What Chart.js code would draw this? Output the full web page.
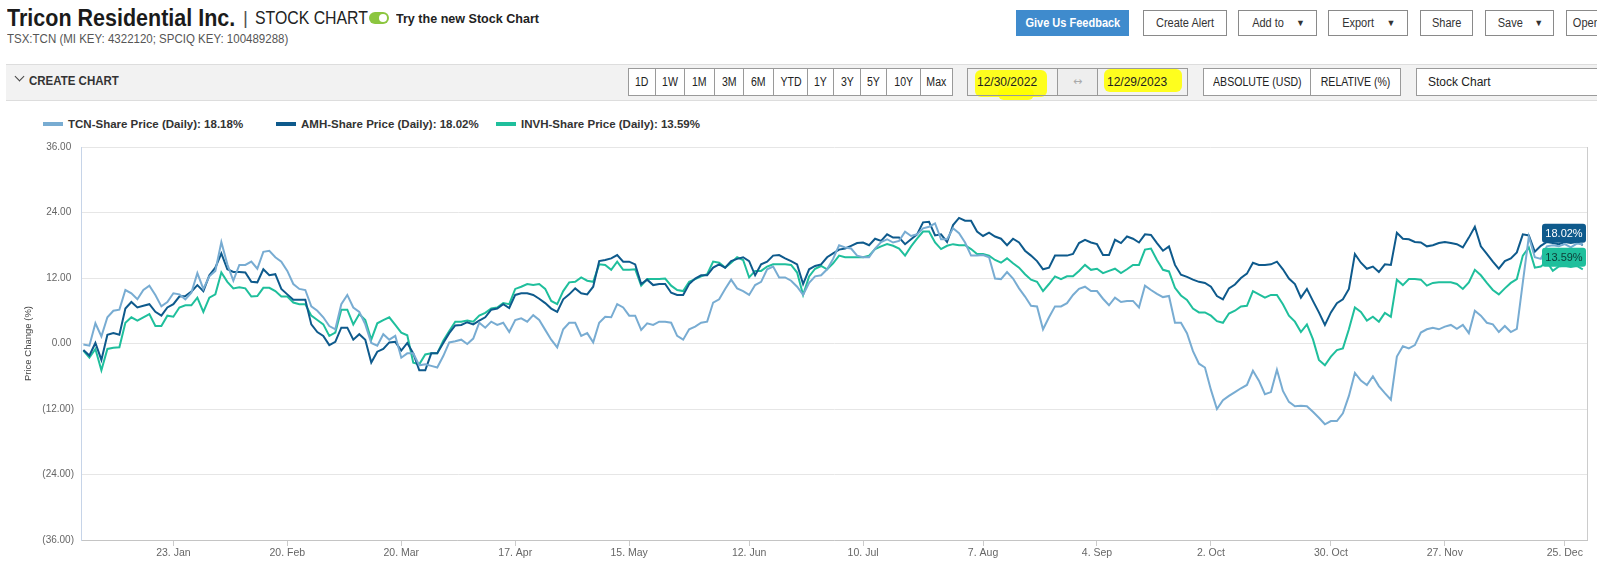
<!DOCTYPE html>
<html>
<head>
<meta charset="utf-8">
<title>Tricon Residential Inc. | Stock Chart</title>
<script src="https://cdn.jsdelivr.net/npm/chart.js@4.4.1/dist/chart.umd.min.js"></script>
<style>
  body { margin: 0; width: 1597px; height: 572px; overflow: hidden; background: #fff;
         font-family: "Liberation Sans", Arial, sans-serif; color: #222; position: relative; }
  .abs { position: absolute; white-space: nowrap; transform-origin: 0 50%; }
  .title { left: 7px; top: 5px; font-size: 23px; font-weight: bold; color: #1b1b1b; transform: scaleX(0.935); }
  .sep { left: 243px; top: 7px; font-size: 19px; color: #555; }
  .sub { left: 255px; top: 8px; font-size: 18px; color: #222; transform: scaleX(0.88); }
  .toggle { left: 369px; top: 12px; width: 20px; height: 12px; border-radius: 6px; background: #8cc63f; }
  .toggle:after { content: ""; position: absolute; right: 2px; top: 2px; width: 8px; height: 8px; border-radius: 50%; background: #fff; }
  .trynew { left: 396px; top: 11px; font-size: 13.5px; font-weight: bold; color: #222; transform: scaleX(0.93); }
  .keys { left: 7px; top: 32px; font-size: 12.5px; color: #555; transform: scaleX(0.92); }
  .btn { position: absolute; top: 10px; height: 26px; box-sizing: border-box; border: 1px solid #8a8a8a; background: #fff;
         font-size: 12.5px; line-height: 24px; text-align: center; color: #333; white-space: nowrap; overflow: hidden; }
  .btn.blue { background: #3f8bcd; border-color: #3f8bcd; color: #fff; font-weight: bold; }
  .n { display: inline-block; transform: scaleX(0.88); }
  .caret { font-size: 9px; margin-left: 10px; vertical-align: 1px; }
  .bar { left: 6px; top: 64px; width: 1591px; height: 35px; background: #f2f2f2; border-top: 1px solid #ddd; border-bottom: 1px solid #ddd; }
  .chev { left: 16px; top: 73px; width: 6px; height: 6px; border-right: 1.5px solid #444; border-bottom: 1.5px solid #444; transform: rotate(45deg); transform-origin: 50% 50%; }
  .create { left: 29px; top: 74px; font-size: 12.5px; font-weight: bold; color: #333; transform: scaleX(0.92); }
  .seg { position: absolute; top: 68px; height: 28px; box-sizing: border-box; border: 1px solid #9a9a9a; background: #fff;
         font-size: 12px; line-height: 26px; text-align: center; color: #222; white-space: nowrap; }
  .hl { position: absolute; background: rgba(255, 255, 0, 0.88); border-radius: 6px; }
  .legend-item { position: absolute; top: 118px; display: flex; align-items: center; white-space: nowrap;
                 font-size: 11.5px; font-weight: bold; color: #333; }
  .legend-item .sw { width: 20px; height: 4px; margin-right: 5px; }
  #chart { position: absolute; left: 0; top: 130px; }
</style>
</head>
<body>
<div class="abs title">Tricon Residential Inc.</div>
<div class="abs sep">|</div>
<div class="abs sub">STOCK CHART</div>
<div class="abs toggle"></div>
<div class="abs trynew">Try the new Stock Chart</div>
<div class="abs keys">TSX:TCN (MI KEY: 4322120; SPCIQ KEY: 100489288)</div>

<div class="btn blue" style="left:1016px;width:113px;"><span class="n">Give Us Feedback</span></div>
<div class="btn" style="left:1143px;width:84px;"><span class="n">Create Alert</span></div>
<div class="btn" style="left:1238px;width:79px;"><span class="n">Add to</span><span class="caret">&#9660;</span></div>
<div class="btn" style="left:1328px;width:80px;"><span class="n">Export</span><span class="caret">&#9660;</span></div>
<div class="btn" style="left:1420px;width:53px;"><span class="n">Share</span></div>
<div class="btn" style="left:1485px;width:69px;"><span class="n">Save</span><span class="caret">&#9660;</span></div>
<div class="btn" style="left:1566px;width:60px;text-align:left;padding-left:4px;"><span class="n">Open</span></div>

<div class="abs bar"></div>
<div class="abs chev"></div>
<div class="abs create">CREATE CHART</div>
<div id="ranges"></div>
<div class="hl" style="left:975px;top:70px;width:72px;height:27px;"></div>
<div class="hl" style="left:998px;top:88px;width:36px;height:12px;"></div>
<div class="hl" style="left:1104px;top:69px;width:78px;height:23px;"></div>
<div class="seg" style="left:967px;width:91px;background:transparent;text-align:left;padding-left:9px;">12/30/2022</div>
<div class="seg" style="left:1057px;width:41px;background:#eee;color:#aaa;font-family:'DejaVu Sans',sans-serif;font-size:11px;">&#8596;</div>
<div class="seg" style="left:1097px;width:91px;background:transparent;text-align:left;padding-left:9px;">12/29/2023</div>
<div class="seg" style="left:1203px;width:108px;"><span class="n">ABSOLUTE (USD)</span></div>
<div class="seg" style="left:1310px;width:91px;"><span class="n">RELATIVE (%)</span></div>
<div class="seg" style="left:1416px;width:190px;text-align:left;padding-left:11px;">Stock Chart</div>

<div id="legend"></div>
<canvas id="chart" width="1597" height="442"></canvas>

<script>
// range buttons in the toolbar
var rangeNames = ['1D', '1W', '1M', '3M', '6M', 'YTD', '1Y', '3Y', '5Y', '10Y', 'Max'];
var rangeWidths = [27, 29, 30, 29, 30, 34, 26, 27, 26, 34, 32];

// x axis: trading-day index of each labelled Monday
var tickIdx = [15, 34, 53, 72, 91, 111, 130, 150, 169, 188, 208, 227, 247];
var tickLabels = ['23. Jan', '20. Feb', '20. Mar', '17. Apr', '15. May', '12. Jun', '10. Jul',
                  '7. Aug', '4. Sep', '2. Oct', '30. Oct', '27. Nov', '25. Dec'];

var seriesNames = ['TCN-Share Price (Daily)', 'AMH-Share Price (Daily)', 'INVH-Share Price (Daily)'];
var seriesColors = ['#78acd2', '#0e5a8c', '#1fbf9c'];
var legendLeft = [43, 276, 496];

// daily price change (%) vs 12/30/2022
var tcnValues = [
  -0.2, -0.4, 3.7, 1.3, 4.8, 6.0, 6.2, 9.8, 9.2, 8.1,
  9.8, 10.6, 8.9, 6.8, 7.6, 9.2, 9.0, 8.1, 9.3, 12.9,
  10.0, 12.3, 13.3, 18.6, 14.5, 11.5, 14.4, 14.4, 15.0, 13.7,
  16.8, 17.0, 15.8, 15.0, 13.3, 10.9, 10.0, 9.8, 6.8, 6.0,
  4.8, 3.2, 2.6, 7.2, 8.9, 6.6, 5.8, 3.5, 0.1, -0.4,
  1.7, 0.7, 1.4, -2.6, -1.8, -1.8, -4.0, -3.8, -4.1, -4.4,
  -2.3, 0.2, 0.4, 0.7, -0.1, 0.9, 3.8, 2.9, 4.0, 3.4,
  3.8, 2.1, 4.3, 4.6, 4.0, 5.2, 4.3, 2.5, 0.7, -0.7,
  2.6, 3.8, 3.8, 1.4, 1.9, 0.2, 3.8, 4.9, 4.8, 7.2,
  6.6, 5.1, 5.1, 2.5, 3.7, 3.4, 4.0, 4.0, 3.8, 1.4,
  0.7, 2.6, 3.1, 3.8, 4.0, 7.5, 8.1, 10.0, 11.7, 10.1,
  9.6, 8.9, 10.7, 11.3, 13.6, 14.1, 12.1, 12.1, 11.5, 10.4,
  8.9, 11.1, 12.3, 12.5, 13.6, 15.5, 18.0, 17.6, 17.4, 16.1,
  15.8, 15.8, 17.4, 18.6, 19.1, 18.5, 18.8, 20.5, 19.7, 20.0,
  21.1, 21.4, 22.0, 19.1, 19.1, 21.1, 20.2, 18.5, 16.1, 16.1,
  16.2, 15.8, 11.9, 11.8, 13.1, 11.9, 10.1, 8.6, 6.9, 6.8,
  2.6, 4.8, 6.8, 6.8, 7.4, 8.9, 10.0, 10.4, 9.6, 9.6,
  8.2, 7.0, 8.4, 7.6, 7.8, 7.8, 6.6, 10.6, 9.8, 9.1,
  8.5, 8.7, 3.8, 3.8, 1.9, -1.4, -3.7, -4.4, -8.5, -12.0,
  -10.4, -9.6, -8.9, -8.2, -7.6, -5.0, -6.8, -9.3, -8.9, -4.8,
  -8.7, -10.7, -11.5, -11.4, -11.5, -12.5, -13.6, -14.8, -14.2, -14.2,
  -12.8, -9.6, -5.4, -6.8, -7.6, -6.0, -7.8, -9.1, -10.3, -2.4,
  -0.5, -0.9, -0.3, 2.0, 2.6, 2.9, 2.6, 3.1, 3.4, 2.7,
  3.4, 1.9, 6.0, 5.1, 3.8, 3.5, 2.1, 3.2, 2.1, 2.7,
  11.2, 19.6, 15.8, 15.5, 17.8, 18.0, 17.8, 18.2, 17.6, 18.3,
  18.18
];
var amhValues = [
  -1.2, -2.2, 0.1, -3.0, 1.6, 1.9, 1.6, 6.4, 7.6, 6.6,
  6.9, 7.2, 5.8, 5.1, 6.6, 7.2, 8.6, 8.7, 9.5, 10.7,
  9.6, 12.5, 13.9, 16.5, 13.6, 13.1, 13.1, 13.0, 11.3, 11.2,
  13.6, 12.5, 12.7, 10.0, 9.0, 8.0, 8.0, 8.0, 3.5, 2.1,
  1.4, -0.3, 0.3, 2.9, 2.9, 0.7, 1.7, 0.7, -3.5, -1.5,
  -1.0, 0.2, 0.3, -1.3, 0.1, -1.8, -4.9, -4.9, -1.8, -1.8,
  0.1, 1.9, 3.3, 3.4, 3.9, 3.5, 4.2, 4.8, 6.2, 6.4,
  7.2, 6.5, 8.9, 9.2, 9.2, 8.9, 8.2, 7.4, 6.4, 5.8,
  8.1, 9.0, 10.1, 9.2, 9.0, 10.4, 15.1, 15.3, 15.6, 16.2,
  15.0, 15.0, 14.5, 10.9, 11.7, 10.7, 10.9, 10.9, 9.3, 8.9,
  8.9, 10.9, 11.9, 12.5, 12.5, 13.9, 14.5, 13.9, 15.1, 15.5,
  15.8, 15.1, 12.5, 14.5, 15.0, 16.1, 16.2, 15.6, 15.1, 14.5,
  10.9, 13.6, 14.2, 14.5, 15.8, 16.5, 17.2, 17.4, 17.9, 18.4,
  18.5, 18.0, 19.2, 18.8, 20.0, 19.4, 19.4, 18.2, 19.1, 20.0,
  22.2, 22.3, 19.8, 20.0, 18.6, 21.7, 23.0, 22.5, 22.5, 20.5,
  19.7, 20.3, 19.6, 19.2, 18.0, 19.2, 18.5, 17.0, 16.1, 15.1,
  13.6, 13.9, 16.1, 16.1, 16.1, 16.4, 18.4, 19.0, 18.5, 18.2,
  16.2, 16.2, 19.0, 18.4, 19.6, 19.2, 18.5, 20.0, 19.9, 18.4,
  17.0, 17.8, 14.4, 12.6, 12.2, 11.7, 11.3, 11.1, 10.4, 8.7,
  8.1, 10.1, 10.8, 12.0, 12.8, 14.8, 14.4, 14.4, 14.5, 15.0,
  13.6, 11.9, 10.9, 8.4, 10.0, 7.8, 5.7, 3.4, 5.7, 7.4,
  8.1, 10.0, 16.4, 14.8, 13.7, 14.1, 13.1, 14.5, 14.4, 20.3,
  19.2, 19.1, 18.6, 18.5, 17.8, 18.0, 18.4, 18.6, 18.4, 18.2,
  17.6, 19.4, 21.4, 17.8, 16.4, 15.0, 13.7, 15.1, 15.6, 16.7,
  20.0, 19.8, 16.8, 17.9, 18.6, 18.4, 18.2, 18.6, 18.4, 18.6,
  18.02
];
var invhValues = [
  -1.3, -2.6, -1.0, -4.9, -1.0, -0.8, -0.7, 3.8, 4.8, 4.2,
  4.8, 5.4, 3.2, 3.2, 5.1, 4.9, 6.6, 7.0, 7.0, 8.4,
  5.8, 8.4, 9.0, 13.0, 11.3, 10.1, 10.3, 10.1, 8.6, 8.7,
  10.2, 10.2, 9.6, 8.6, 8.6, 7.5, 7.2, 7.2, 5.1, 4.3,
  3.5, 1.4, 2.0, 6.2, 6.2, 3.5, 5.4, 4.3, 0.7, 3.7,
  4.3, 4.8, 3.4, 2.0, 1.5, -3.5, -3.8, -2.0, -1.8, -1.8,
  0.5, 2.3, 4.0, 4.0, 4.2, 4.0, 5.1, 5.6, 6.4, 6.6,
  7.4, 7.2, 10.0, 10.4, 10.9, 10.7, 10.9, 10.0, 7.8, 7.2,
  9.6, 11.2, 11.3, 12.1, 11.5, 11.3, 14.5, 14.4, 13.5, 15.0,
  13.5, 13.5, 13.6, 10.6, 11.8, 11.8, 11.8, 11.9, 10.6, 9.8,
  9.6, 11.3, 11.8, 12.3, 12.7, 15.0, 14.8, 13.9, 14.8, 15.8,
  15.3, 12.1, 13.3, 13.3, 14.1, 14.5, 14.5, 14.5, 14.4, 13.0,
  8.9, 12.3, 13.7, 14.2, 13.6, 14.7, 16.1, 15.8, 15.8, 15.8,
  15.8, 16.1, 17.3, 17.8, 18.2, 17.9, 17.4, 16.1, 17.8, 19.2,
  20.5, 20.5, 18.5, 17.3, 17.9, 18.2, 18.0, 18.0, 17.3, 16.4,
  16.4, 16.1, 15.3, 14.8, 15.6, 14.7, 13.9, 12.7, 11.7, 11.3,
  9.6, 10.9, 12.3, 11.8, 12.3, 12.3, 13.3, 14.4, 13.5, 13.7,
  12.9, 13.3, 13.7, 12.9, 13.6, 14.4, 14.4, 17.2, 17.4, 15.3,
  13.5, 13.2, 10.2, 8.8, 8.0, 6.4, 5.7, 5.7, 5.1, 4.1,
  3.8, 5.5, 6.0, 6.8, 6.9, 9.6, 9.0, 8.4, 8.9, 8.9,
  7.2, 5.1, 4.0, 2.1, 3.5, 0.8, -3.0, -4.0, -2.4, -1.2,
  -0.9, 2.6, 6.6, 5.8, 4.2, 4.9, 4.0, 5.6, 4.9, 11.7,
  10.7, 11.8, 11.8, 11.7, 10.6, 11.1, 11.2, 11.2, 11.2, 10.9,
  10.0, 11.2, 13.5, 12.5, 11.1, 9.8, 9.0, 10.1, 11.1, 11.8,
  16.1, 17.6, 13.9, 14.1, 15.0, 13.3, 14.1, 14.2, 14.0, 14.2,
  13.59
];

var allSeries = [tcnValues, amhValues, invhValues];

// toolbar range buttons
var rangesEl = document.getElementById('ranges');
var rx = 628;
rangeNames.forEach(function (name, i) {
    var d = document.createElement('div');
    d.className = 'seg';
    d.style.left = rx + 'px';
    d.style.width = (rangeWidths[i] + 1) + 'px';
    d.innerHTML = '<span class="n">' + name + '</span>';
    rangesEl.appendChild(d);
    rx += rangeWidths[i];
});

// legend
var legendEl = document.getElementById('legend');
seriesNames.forEach(function (name, i) {
    var vals = allSeries[i];
    var item = document.createElement('div');
    item.className = 'legend-item';
    item.style.left = legendLeft[i] + 'px';
    item.innerHTML = '<div class="sw" style="background:' + seriesColors[i] + '"></div>' +
        name + ': ' + vals[vals.length - 1].toFixed(2) + '%';
    legendEl.appendChild(item);
});

function toPoints(vals) {
    return vals.map(function (v, i) { return { x: i, y: v }; });
}

// right border plus boxed last-value labels (AMH and INVH)
var endLabels = {
    id: 'endLabels',
    afterDatasetsDraw: function (chart) {
        var ctx = chart.ctx, area = chart.chartArea, yScale = chart.scales.y;
        ctx.save();
        ctx.strokeStyle = '#cccccc';
        ctx.lineWidth = 1;
        ctx.beginPath();
        ctx.moveTo(Math.round(area.right) + 0.5, area.top);
        ctx.lineTo(Math.round(area.right) + 0.5, area.bottom);
        ctx.stroke();
        [[1, '#0e5a8c', '#ffffff'], [2, '#1fbf9c', '#0d3b36']].forEach(function (cfg) {
            var vals = allSeries[cfg[0]];
            var v = vals[vals.length - 1];
            var cy = yScale.getPixelForValue(v) - 12;
            var w = 44, h = 19, r = 3;
            var x0 = area.right - w - 1, y0 = cy - h / 2;
            ctx.beginPath();
            ctx.moveTo(x0 + r, y0);
            ctx.lineTo(x0 + w - r, y0);
            ctx.quadraticCurveTo(x0 + w, y0, x0 + w, y0 + r);
            ctx.lineTo(x0 + w, y0 + h - r);
            ctx.quadraticCurveTo(x0 + w, y0 + h, x0 + w - r, y0 + h);
            ctx.lineTo(x0 + r, y0 + h);
            ctx.quadraticCurveTo(x0, y0 + h, x0, y0 + h - r);
            ctx.lineTo(x0, y0 + r);
            ctx.quadraticCurveTo(x0, y0, x0 + r, y0);
            ctx.fillStyle = cfg[1];
            ctx.fill();
            ctx.fillStyle = cfg[2];
            ctx.font = '11px "Liberation Sans", Arial, sans-serif';
            ctx.textAlign = 'center';
            ctx.textBaseline = 'middle';
            ctx.fillText(v.toFixed(2) + '%', x0 + w / 2, cy + 1);
        });
        ctx.restore();
    }
};

var ctx = document.getElementById('chart').getContext('2d');
new Chart(ctx, {
    type: 'line',
    data: {
        datasets: seriesNames.map(function (name, i) {
            return {
                label: name,
                data: toPoints(allSeries[i]),
                borderColor: seriesColors[i],
                backgroundColor: seriesColors[i],
                borderWidth: 2,
                pointRadius: 0,
                tension: 0
            };
        })
    },
    options: {
        responsive: false,
        animation: false,
        devicePixelRatio: 1,
        layout: { padding: { top: 17, right: 10, left: 0, bottom: 0 } },
        plugins: {
            legend: { display: false },
            tooltip: { enabled: false }
        },
        scales: {
            x: {
                type: 'linear',
                min: -0.4,
                max: 250.7,
                afterBuildTicks: function (scale) {
                    scale.ticks = tickIdx.map(function (v) { return { value: v }; });
                },
                afterFit: function (scale) { scale.height = 32; },
                ticks: {
                    autoSkip: false,
                    maxRotation: 0,
                    padding: 1,
                    color: '#666',
                    font: { family: '"Liberation Sans", Arial, sans-serif', size: 10.5 },
                    callback: function (v) { return tickLabels[tickIdx.indexOf(v)]; }
                },
                grid: { drawOnChartArea: false, tickLength: 6, color: '#cccccc' },
                border: { color: '#c4c4c4' }
            },
            y: {
                min: -36,
                max: 36,
                afterFit: function (scale) { scale.width = 81; },
                ticks: {
                    stepSize: 12,
                    padding: 7,
                    color: '#666',
                    font: { family: '"Liberation Sans", Arial, sans-serif', size: 10 },
                    callback: function (v) {
                        return v < 0 ? '(' + Math.abs(v).toFixed(2) + ')' : v.toFixed(2) + ' ';
                    }
                },
                grid: { color: '#e6e6e6', drawTicks: false },
                border: { color: '#c6d4e8' },
                title: {
                    display: true,
                    text: 'Price Change (%)',
                    color: '#444',
                    font: { family: '"Liberation Sans", Arial, sans-serif', size: 9.5 },
                    padding: { top: 23, bottom: 0 }
                }
            }
        }
    },
    plugins: [endLabels]
});
</script>
</body>
</html>
